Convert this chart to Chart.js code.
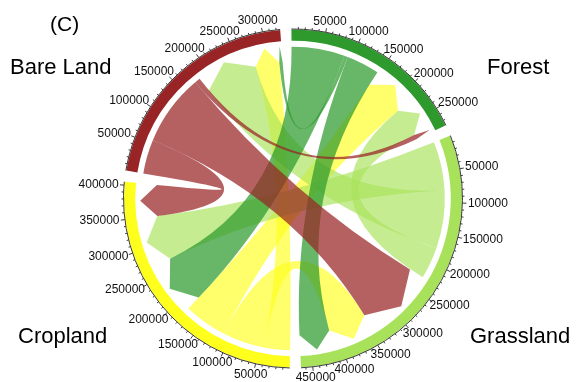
<!DOCTYPE html>
<html>
<head>
<meta charset="utf-8">
<title>Land use transitions (C)</title>
<script src="https://cdn.jsdelivr.net/npm/chart.js@4.4.0/dist/chart.umd.min.js"></script>
<style>
    html, body { margin: 0; padding: 0; background: #fff; }
    #wrap { width: 576px; height: 382px; }
</style>
</head>
<body>
<div id="wrap"><canvas id="chord" width="576" height="382"></canvas></div>
<script>
'use strict';

// ── Data ────────────────────────────────────────────────
const sectors = ['Bare Land', 'Forest', 'Grassland', 'Cropland'];

// transitions from one class to the others (columns follow `sectors`)
const fromBareLand  = [0, 9000, 117000, 56000];
const fromForest    = [6000, 0, 54000, 87000];
const fromGrassland = [95000, 52000, 0, 80000];
const fromCropland  = [43000, 70000, 69000, 0];

const tickStep = 50000;
const minorStep = 10000;

// order of the links inside each sector, clockwise (indexes into `sectors`)
const outOrder = [[3, 2, 1], [3, 0, 2], [3, 0, 1], [0, 2, 1]];
const inOrder  = [[2, 3, 1], [3, 2, 0], [0, 3, 1], [1, 2, 0]];

// ── Style ───────────────────────────────────────────────
const ringColors   = ['rgb(152,36,38)', 'rgb(46,154,46)', 'rgb(168,226,90)', 'rgb(255,255,30)'];
const ribbonColors = ['rgba(152,36,38,0.72)', 'rgba(46,154,46,0.72)', 'rgba(168,226,90,0.66)', 'rgba(255,255,30,0.66)'];
const sectorLabelPos = [[10, 68], [487, 68], [470, 337], [18, 337]];
const GAP = 16300; // empty space between two sectors, in value units
const FONT = '"Liberation Sans", Arial, sans-serif';

const matrix = [fromBareLand, fromForest, fromGrassland, fromCropland];
const n = sectors.length;
const totals = sectors.map((_, i) =>
    matrix[i].reduce((a, b) => a + b, 0) + matrix.reduce((a, row) => a + row[i], 0));

// value spans of every link end inside its sector
const outSpan = sectors.map(() => []);
const inSpan = sectors.map(() => []);
for (let i = 0; i < n; i++) {
    let pos = 0;
    outOrder[i].forEach(t => { outSpan[i][t] = [pos, pos + matrix[i][t]]; pos += matrix[i][t]; });
    inOrder[i].forEach(s => { inSpan[i][s] = [pos, pos + matrix[s][i]]; pos += matrix[s][i]; });
}

const ringData = [];
const ringLabels = [];
const ringFill = [];
totals.forEach((t, i) => {
    ringData.push(t, GAP);
    ringLabels.push(sectors[i], '');
    ringFill.push(ringColors[i], 'rgba(0,0,0,0)');
});

const chordPlugin = {
    id: 'chord',
    afterDatasetsDraw(chart) {
        const ctx = chart.ctx;
        const meta = chart.getDatasetMeta(0);
        const arcs = sectors.map((_, i) => meta.data[2 * i]);
        const cx = arcs[0].x, cy = arcs[0].y;
        const rOut = arcs[0].outerRadius, rIn = arcs[0].innerRadius;
        const rSrc = rIn - 6, rHead = rIn - 21, rTip = rIn - 5;

        const angleAt = (i, v) => arcs[i].startAngle + (arcs[i].endAngle - arcs[i].startAngle) * v / totals[i];
        const pt = (r, a) => [cx + r * Math.cos(a), cy + r * Math.sin(a)];

        // ribbons (big arrow pointing to the target class)
        ctx.save();
        [3, 2, 1, 0].forEach(s => {
            outOrder[s].forEach(t => {
                if (!matrix[s][t]) return;
                const a1 = angleAt(s, outSpan[s][t][0]), a2 = angleAt(s, outSpan[s][t][1]);
                const b1 = angleAt(t, inSpan[t][s][0]), b2 = angleAt(t, inSpan[t][s][1]);
                ctx.beginPath();
                ctx.arc(cx, cy, rSrc, a1, a2);
                let p = pt(rHead, b1);
                ctx.quadraticCurveTo(cx, cy, p[0], p[1]);
                p = pt(rTip, (b1 + b2) / 2);
                ctx.lineTo(p[0], p[1]);
                p = pt(rHead, b2);
                ctx.lineTo(p[0], p[1]);
                p = pt(rSrc, a1);
                ctx.quadraticCurveTo(cx, cy, p[0], p[1]);
                ctx.closePath();
                ctx.fillStyle = ribbonColors[s];
                ctx.fill();
            });
        });

        // axes with ticks around the ring
        ctx.strokeStyle = '#3a3a3a';
        ctx.lineWidth = 1;
        ctx.fillStyle = '#111';
        ctx.font = '12px ' + FONT;
        ctx.textAlign = 'center';
        ctx.textBaseline = 'middle';
        arcs.forEach((arc, i) => {
            ctx.beginPath();
            ctx.arc(cx, cy, rOut + 0.5, arc.startAngle, arc.endAngle);
            ctx.stroke();
            for (let v = minorStep; v <= totals[i]; v += minorStep) {
                const a = angleAt(i, v);
                const major = v % tickStep === 0;
                const p0 = pt(rOut + 0.5, a), p1 = pt(rOut + (major ? 4.5 : 2.5), a);
                ctx.beginPath();
                ctx.moveTo(p0[0], p0[1]);
                ctx.lineTo(p1[0], p1[1]);
                ctx.stroke();
                if (major) {
                    const txt = String(v);
                    const w = ctx.measureText(txt).width;
                    const lp = pt(rOut + 6, a);
                    ctx.fillText(txt, lp[0] + w * Math.cos(a) / 2, lp[1] + 5.5 * Math.sin(a));
                }
            }
        });
        ctx.restore();
    },
    afterDraw(chart) {
        const ctx = chart.ctx;
        ctx.save();
        ctx.fillStyle = '#000';
        ctx.font = '22px ' + FONT;
        ctx.textAlign = 'left';
        ctx.textBaseline = 'middle';
        sectors.forEach((name, i) => ctx.fillText(name, sectorLabelPos[i][0], sectorLabelPos[i][1]));
        ctx.font = '21px ' + FONT;
        ctx.fillText('(C)', 50, 25);
        ctx.restore();
    }
};

new Chart(document.getElementById('chord'), {
    type: 'doughnut',
    data: {
        labels: ringLabels,
        datasets: [{
            data: ringData,
            backgroundColor: ringFill,
            borderWidth: 0,
        }],
    },
    options: {
        responsive: false,
        animation: false,
        events: [],
        rotation: 279.5,
        radius: 169,
        cutout: 162,
        layout: { padding: { left: 110, right: 100, top: 25, bottom: 10 } },
        plugins: {
            legend: { display: false },
            tooltip: { enabled: false },
        },
    },
    plugins: [chordPlugin],
});
</script>
</body>
</html>
